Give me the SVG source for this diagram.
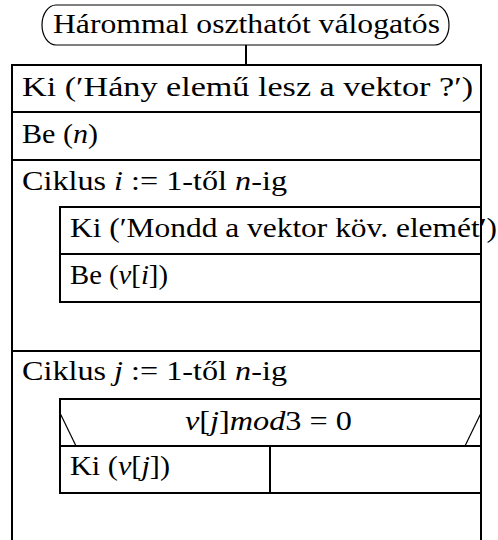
<svg xmlns="http://www.w3.org/2000/svg" width="498" height="540" viewBox="0 0 498 540">
<style>
  .t { font-family: "Liberation Serif", "Times New Roman", serif; font-size: 27px; fill: #000; }
  .m { font-style: italic; }
  .box { fill: none; stroke: #000; stroke-width: 2; }
  .thin { fill: none; stroke: #000; stroke-width: 1.2; }
</style>
<rect width="498" height="540" fill="#fff"/>
<g id="start">
  <path class="thin" d="M56,5 H435 A14,20 0 0 1 435,45 H56 A14,20 0 0 1 56,5 Z"/>
  <text class="t" x="53" y="33" textLength="387" lengthAdjust="spacingAndGlyphs">Hárommal oszthatót válogatós</text>
</g>
<g id="connectors">
  <line class="box" x1="246" y1="45" x2="246" y2="65"/>
</g>
<g id="outer">
  <path class="box" d="M12,540 V65 H481 V540"/>
</g>
<g id="ki1">
  <line class="box" x1="12" y1="112" x2="481" y2="112"/>
  <text class="t" x="22" y="96" textLength="451" lengthAdjust="spacingAndGlyphs">Ki (′Hány elemű lesz a vektor ?′)</text>
</g>
<g id="be1">
  <line class="box" x1="12" y1="160" x2="481" y2="160"/>
  <text class="t" x="22" y="143" textLength="76" lengthAdjust="spacingAndGlyphs">Be (<tspan class="m">n</tspan>)</text>
</g>
<g id="loop1">
  <text class="t" x="22" y="190" textLength="265" lengthAdjust="spacingAndGlyphs">Ciklus <tspan class="m">i</tspan> := 1-től <tspan class="m">n</tspan>-ig</text>
  <line class="box" x1="12" y1="351" x2="481" y2="351"/>
</g>
<g id="ki2">
  <path class="box" d="M481,207 H60 V254 H481"/>
  <text class="t" x="70" y="237" textLength="427" lengthAdjust="spacingAndGlyphs">Ki (′Mondd a vektor köv. elemét′)</text>
</g>
<g id="be2">
  <path class="box" d="M60,254 V302 H481"/>
  <text class="t" x="70" y="284" textLength="98" lengthAdjust="spacingAndGlyphs">Be (<tspan class="m">v</tspan>[<tspan class="m">i</tspan>])</text>
</g>
<g id="loop2">
  <text class="t" x="22" y="380" textLength="265" lengthAdjust="spacingAndGlyphs">Ciklus <tspan class="m">j</tspan> := 1-től <tspan class="m">n</tspan>-ig</text>
</g>
<g id="cond">
  <path class="box" d="M481,399 H60 V446 H481"/>
  <line class="thin" x1="60" y1="413" x2="76" y2="446"/>
  <line class="thin" x1="481" y1="413" x2="465" y2="446"/>
  <text class="t" x="185" y="430" textLength="167" lengthAdjust="spacingAndGlyphs"><tspan class="m">v</tspan>[<tspan class="m">j</tspan>]<tspan class="m">mod</tspan>3 = 0</text>
</g>
<g id="ki3">
  <path class="box" d="M60,446 V493 H481"/>
  <text class="t" x="70" y="475" textLength="100" lengthAdjust="spacingAndGlyphs">Ki (<tspan class="m">v</tspan>[<tspan class="m">j</tspan>])</text>
</g>
<g id="empty">
  <line class="box" x1="270" y1="446" x2="270" y2="493"/>
</g>
</svg>
